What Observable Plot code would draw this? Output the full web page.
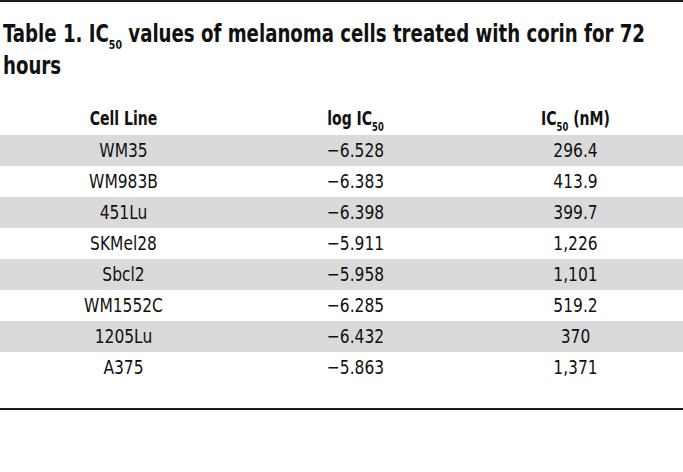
<!DOCTYPE html>
<html>
<head>
<meta charset="utf-8">
<script src="https://cdn.jsdelivr.net/npm/d3@7"></script>
<script src="https://cdn.jsdelivr.net/npm/@observablehq/plot@0.6"></script>
<style>
  html, body { margin: 0; padding: 0; background: #fff; }
  body { font-family: "DejaVu Sans Condensed", "DejaVu Sans", sans-serif; color: #111; }
  #page { width: 683px; height: 472px; position: relative; overflow: hidden; }
  #topline { position: absolute; left: 0; top: 0; width: 683px; height: 0; border-top: 2px solid #1a1a1a; }
  #title { position: absolute; left: 3px; top: 18px; font-weight: bold; font-size: 25px; line-height: 32px; white-space: nowrap; color: #111; transform-origin: 0 0; }
  #title sub { font-size: 13px; vertical-align: -7px; line-height: 0; }
  #chart { position: absolute; left: 0; top: 90px; }
  #bottomline { position: absolute; left: 0; top: 408px; width: 683px; height: 0; border-top: 2px solid #1a1a1a; }
</style>
</head>
<body>
<div id="page">
  <div id="topline"></div>
  <div id="title"><span id="tline1">Table 1. IC<sub>50</sub> values of melanoma cells treated with corin for 72</span><br>hours</div>
  <div id="chart"></div>
  <div id="bottomline"></div>
</div>
<script>
// ---- data ----
const columns = ["Cell Line", "log IC50", "IC50 (nM)"];
const cellLines = ["WM35", "WM983B", "451Lu", "SKMel28", "Sbcl2", "WM1552C", "1205Lu", "A375"];
const logIC50 = [-6.528, -6.383, -6.398, -5.911, -5.958, -6.285, -6.432, -5.863];
const ic50nM = [296.4, 413.9, 399.7, 1226, 1101, 519.2, 370, 1371];

// ---- table built from the arrays ----
const fmtLog = d3.format(".3f");   // uses U+2212 minus
const fmtIC = d3.format(",");
const header = "header";
const rowKeys = [header, ...cellLines];
const cells = [];
columns.forEach(c => cells.push({row: header, col: c, label: c, bold: true}));
cellLines.forEach((name, i) => {
  cells.push({row: name, col: columns[0], label: name});
  cells.push({row: name, col: columns[1], label: fmtLog(logIC50[i])});
  cells.push({row: name, col: columns[2], label: fmtIC(ic50nM[i])});
});
const striped = cellLines.filter((d, i) => i % 2 === 0);
const colDx = {"Cell Line": 0, "log IC50": 6, "IC50 (nM)": 0};

const textMarks = columns.flatMap(c => [
  Plot.text(cells.filter(d => d.col === c && !d.bold), {
    x: "col", y: "row", text: "label", dx: colDx[c],
    fontSize: 20, fill: "#111", fontWeight: "normal", className: "cellnormal"
  }),
  Plot.text(cells.filter(d => d.col === c && d.bold), {
    x: "col", y: "row", text: "label", dx: colDx[c], dy: -1,
    fontSize: 20, fill: "#111", fontWeight: "bold", className: "cellbold"
  })
]);

const chart = Plot.plot({
  width: 683,
  height: 318,
  margin: 0,
  style: {fontFamily: '"DejaVu Sans Condensed", "DejaVu Sans", sans-serif', background: "transparent"},
  x: {type: "point", domain: columns, range: [122, 575.5], padding: 0, axis: null},
  y: {type: "band", domain: rowKeys, range: [13.7, 292.7], padding: 0, axis: null},
  marks: [
    Plot.cell(striped, {y: d => d, fill: "#dadada"}),
    ...textMarks
  ]
});

// render "IC50" with a subscript 50
const ns = "http://www.w3.org/2000/svg";
chart.querySelectorAll("text").forEach(t => {
  const s = t.textContent;
  const k = s.indexOf("IC50");
  if (k < 0) return;
  t.textContent = "";
  const a = document.createElementNS(ns, "tspan");
  a.textContent = s.slice(0, k + 2);
  const b = document.createElementNS(ns, "tspan");
  b.textContent = "50";
  b.setAttribute("font-size", "12");
  b.setAttribute("dy", "6");
  const c = document.createElementNS(ns, "tspan");
  c.textContent = s.slice(k + 4);
  c.setAttribute("dy", "-6");
  t.append(a, b, c);
});

document.getElementById("chart").append(chart);

// condense the glyphs to match the narrow typeface of the reference
function condense(sel, k) {
  chart.querySelectorAll(sel + " text").forEach(t => {
    const w = t.getComputedTextLength();
    t.setAttribute("textLength", (w * k).toFixed(1));
    t.setAttribute("lengthAdjust", "spacingAndGlyphs");
  });
}
condense(".cellnormal", 0.86);
condense(".cellbold", 0.78);

// title: squeeze the first line to the reference width
const title = document.getElementById("title");
const w1 = document.getElementById("tline1").getBoundingClientRect().width;
title.style.transform = `scaleX(${(642 / w1).toFixed(4)})`;
</script>
</body>
</html>
